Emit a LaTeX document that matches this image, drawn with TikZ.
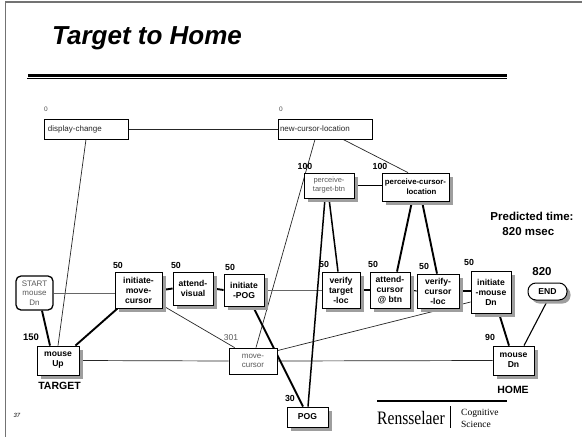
\documentclass[tikz,border=0pt]{standalone}
\usepackage{fontspec}
\usepackage{graphicx}
\setmainfont{Liberation Sans}
\newfontfamily\serifRPI{Liberation Serif}
\usetikzlibrary{shadows,calc}
\pgfdeclarelayer{bg}
\pgfsetlayers{bg,main}
\tikzset{
  wh/.style 2 args={minimum width=#1pt, minimum height=#2pt},
  box/.style={draw, fill=white, line width=0.8pt, inner sep=0.5pt, align=center,
    font=\fontsize{8.6}{10}\selectfont\bfseries},
  graybox/.style={box, text=black!65, font=\fontsize{8}{9.6}\selectfont},
  shad/.style={drop shadow={shadow xshift=3.5pt, shadow yshift=-3.5pt, fill=black!38, opacity=1}},
  lbl/.style={inner sep=0pt, font=\fontsize{8.8}{9}\selectfont\bfseries},
  thin/.style={line width=0.7pt, black!85},
  mid/.style={line width=1.1pt},
  thick/.style={line width=1.9pt},
}
\begin{document}
\begin{tikzpicture}[x=1pt,y=-1pt]
\useasboundingbox (0,0) rectangle (582,437);
% frame
\draw[black!55, line width=1.3pt] (5.5,437) -- (5.5,2) -- (582,2);
% title
\node[anchor=base west, inner sep=0, font=\fontsize{26}{28}\selectfont\bfseries\itshape] (title) at (52,44.5) {Target to Home};
\draw[line width=3pt] (28,75) -- (507,75);
\draw[line width=0.9pt] (27,78.8) -- (507,78.8);

% top nodes
\node[box, graybox, text=black!85, wh={84}{20}, text width=76pt, align=left] (dc) at (86,129) {display-change};
\node[box, graybox, text=black!85, wh={94}{20}, text width=90pt, align=left] (ncl) at (325,129) {new-cursor-location};
\node[lbl, font=\fontsize{6.5}{7}\selectfont, text=black!70] (z1) at (46,109) {0};
\node[lbl, font=\fontsize{6.5}{7}\selectfont, text=black!70] (z2) at (281,109) {0};

\node[box, graybox, shad, wh={50}{25}, font=\fontsize{7.5}{9}\selectfont] (ptb) at (329,185.5) {perceive-\\target-btn};
\node[box, shad, wh={67}{28}, font=\fontsize{7.8}{9.6}\selectfont\bfseries] (pcl) at (415.5,187) {perceive-cursor-\\\hspace*{12pt}location};
\node[lbl] (l100a) at (305,166) {100};
\node[lbl] (l100b) at (380,166) {100};

% middle row
\node[box, graybox, rounded corners=5pt, line width=1.3pt, wh={37}{34}] (start) at (34.5,293) {START\\mouse\\Dn};
\node[box, shad, wh={47}{36}] (imc) at (138.5,290) {initiate-\\move-\\cursor};
\node[box, shad, wh={40}{33}] (av) at (193,288.5) {attend-\\visual};
\node[box, shad, wh={40}{32}] (ipog) at (244,290) {initiate\\-POG};
\node[box, shad, wh={38}{36}] (vtl) at (341,290) {verify\\target\\-loc};
\node[box, shad, wh={40}{36}] (acb) at (390,290) {attend-\\cursor\\@ btn};
\node[box, shad, wh={42}{34}] (vcl) at (438,291) {verify-\\cursor\\-loc};
\node[box, shad, wh={40}{42}] (imd) at (491,292) {initiate\\-mouse\\Dn};
\node[box, shad, rounded corners=8pt, wh={39}{17}, line width=1pt] (endn) at (547.5,291.5) {END};

\node[lbl] (l50a) at (118,265) {50};
\node[lbl] (l50b) at (176,265) {50};
\node[lbl] (l50c) at (230,267) {50};
\node[lbl] (l50d) at (324,264) {50};
\node[lbl] (l50e) at (373,264) {50};
\node[lbl] (l50f) at (424,266) {50};
\node[lbl] (l50g) at (469,262) {50};
\node[lbl, font=\fontsize{11.5}{12}\selectfont\bfseries] (l820) at (542,272) {820};

% bottom row
\node[box, shad, wh={42}{29}] (mup) at (58,360.5) {mouse\\Up};
\node[box, shad, wh={41}{29}] (mdn) at (513.5,360.5) {mouse\\Dn};
\node[box, graybox, wh={48}{26}] (mc) at (253,361) {move-\\cursor};
\node[box, shad, wh={41}{20}] (pog) at (307.5,417) {POG};
\node[lbl, font=\fontsize{9.5}{10}\selectfont\bfseries] (l150) at (31,337) {150};
\node[lbl] (l30) at (290,398) {30};
\node[lbl] (l90) at (490,337) {90};
\node[lbl, font=\fontsize{8.5}{9}\selectfont, text=black!65] (l301) at (231,338) {301};
\node[lbl, font=\fontsize{10.5}{11}\selectfont\bfseries] (tgt) at (59.5,386) {TARGET};
\node[lbl, font=\fontsize{10.5}{11}\selectfont\bfseries] (home) at (513,390) {HOME};

% predicted time
\node[lbl, font=\fontsize{11.5}{15}\selectfont\bfseries, align=left] (pt) at (532,224) {Predicted time:\\\hspace*{12pt}820 msec};

% footer
\node[lbl, font=\fontsize{6}{7}\selectfont\itshape] (pnum) at (17,415) {37};
\coordinate (ra) at (377,401);
\coordinate (rb) at (507,401);
\draw[line width=1.5pt] (ra) -- (rb);
\node[anchor=base west, inner sep=0, font=\serifRPI\fontsize{19}{20}\selectfont] (rpi) at (377,424) {\scalebox{0.82}[1]{Rensselaer}};
\coordinate (va) at (450,406);
\coordinate (vb) at (450,428);
\draw[line width=0.8pt] (va) -- (vb);
\node[anchor=base west, inner sep=0, font=\serifRPI\fontsize{9.5}{10}\selectfont] (cog) at (461,415) {Cognitive};
\node[anchor=base west, inner sep=0, font=\serifRPI\fontsize{9.5}{10}\selectfont] (sci) at (461,427) {Science};

\begin{pgfonlayer}{bg}
% thin
\draw[thin] (dc.east) -- (ncl.west);
\draw[thin] (dc.south) -- (mup.north);
\draw[thin] ($(ncl.south)+(-10,0)$) -- ($(mc.north)+(3,0)$);
\draw[thin] ($(ncl.south)+(18,0)$) -- ($(pcl.north)+(-7.5,0)$);
\draw[thin, black!60] (start.east) -- (start.east -| imc.west);
\draw[thin, black!60] (ipog.east) -- (vtl.west);
\draw[thin] ($(imc.south east)+(0,-3)$) -- ($(mc.north west)+(6,0)$);
\draw[thin] (mup.east) -- (mc.west);
\draw[thin] (mc.east) -- (mdn.west);
\draw[thin] ($(mc.north east)+(0,3)$) -- ($(imd.west)+(0,10)$);
% medium
\draw[mid] (ptb.east) -- (ptb.east -| pcl.west);
\draw[mid] (vtl.east) -- (acb.west);
\draw[mid] (acb.east) -- (vcl.west);
\draw[mid] (endn.south) -- ($(mdn.north)+(10.5,0)$);
% thick
\draw[thick] ($(start.south)+(7.5,0)$) -- ($(mup.north)+(-8,0)$);
\draw[thick] ($(imc.south west)+(3,0)$) -- ($(mup.north east)+(-4,0)$);
\draw[thick] (imc.east) -- (av.west);
\draw[thick] (av.east) -- (ipog.west);
\draw[thick] ($(ipog.south)+(9,0)$) -- ($(pog.north)+(-4.5,0)$);
\draw[line width=1.5pt] ($(ptb.south)+(-4,0)$) -- ($(pog.north)+(0.5,0)$);
\draw[line width=1.5pt] (ptb.south) -- ($(vtl.north)+(-3,0)$);
\draw[thick] ($(pcl.south)+(-3.5,0)$) -- ($(acb.north)+(7,0)$);
\draw[thick] ($(pcl.south)+(6.5,0)$) -- ($(vcl.north)+(-1,0)$);
\draw[thick] (vcl.east) -- (imd.west |- vcl.east);
\draw[thick] ($(imd.south)+(8,0)$) -- ($(mdn.north)+(-4.5,0)$);
\end{pgfonlayer}
\end{tikzpicture}
\end{document}
